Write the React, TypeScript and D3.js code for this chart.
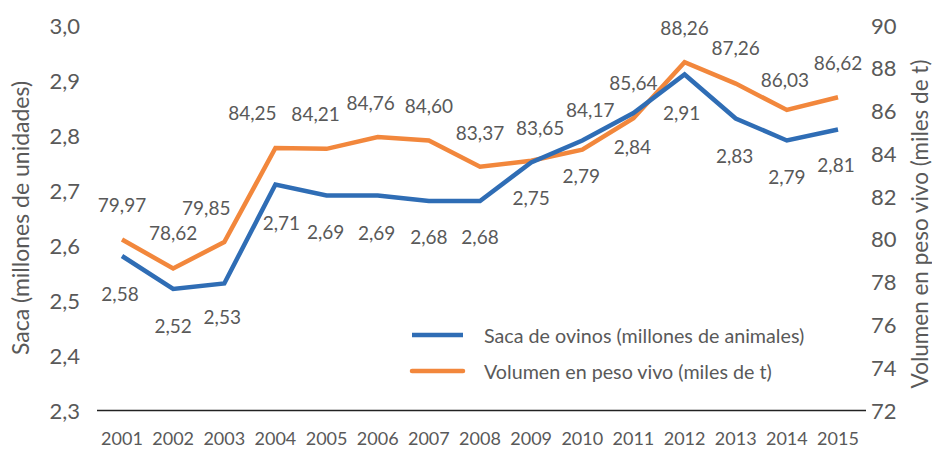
import React from "react";
import * as d3 from "d3";

const years = ["2001","2002","2003","2004","2005","2006","2007","2008","2009","2010","2011","2012","2013","2014","2015"];
const saca = [2.58, 2.52, 2.53, 2.71, 2.69, 2.69, 2.68, 2.68, 2.75, 2.79, 2.84, 2.91, 2.83, 2.79, 2.81];
const volumen = [79.97, 78.62, 79.85, 84.25, 84.21, 84.76, 84.60, 83.37, 83.65, 84.17, 85.64, 88.26, 87.26, 86.03, 86.62];
const leftTicks = [2.3, 2.4, 2.5, 2.6, 2.7, 2.8, 2.9, 3.0];
const rightTicks = [72, 74, 76, 78, 80, 82, 84, 86, 88, 90];
const seriesNames = ["Saca de ovinos (millones de animales)", "Volumen en peso vivo (miles de t)"];
const leftTitle = "Saca (millones de unidades)";
const rightTitle = "Volumen en peso vivo (miles de t)";

// label nudges (layout)
const volDx = [0, 0, -18, -23, -11, -7, 0, 0, 9, 8, 0, 0, 0, -2, 0];
const volDy = [-35, -36, -35, -35, -35, -35, -35, -34, -33, -40, -36, -35, -36, -30, -35];
const sacaDx = [-2, 0, -2, 6, -1, -1, 0, 0, 0, -1, -1, -3, -1, 0, -2];
const sacaDy = [37, 36, 33, 38, 36, 37, 35, 35, 35, 35, 33, 38, 37, 36, 35];

const BLUE = "#2F6DB5";
const ORANGE = "#F2873C";
const TEXT = "#595959";
const FONT = "Lato, 'Open Sans', sans-serif";

const loc = d3.formatLocale({ decimal: ",", thousands: ".", grouping: [3], currency: ["", ""] });
const f1 = loc.format(".1f");
const f2 = loc.format(".2f");
const f0 = loc.format("d");

export default function App() {
  const W = 932, H = 449;
  const x = d3.scalePoint<string>().domain(years).range([122, 838]);
  const yL = d3.scaleLinear().domain([2.3, 3.0]).range([410, 25]);
  const yR = d3.scaleLinear().domain([72, 90]).range([410, 25]);

  const lineL = d3.line<number>().x((_, i) => x(years[i]) as number).y((d) => yL(d));
  const lineR = d3.line<number>().x((_, i) => x(years[i]) as number).y((d) => yR(d));

  return (
    <svg width={W} height={H} style={{ position: "absolute", left: 0, top: 0, background: "#fff" }} fontFamily={FONT}>
      {leftTicks.map((t) => (
        <text key={"l" + t} x={80} y={yL(t)} textAnchor="end" dominantBaseline="central" fontSize={22} fill={TEXT}>
          {f1(t)}
        </text>
      ))}
      {rightTicks.map((t) => (
        <text key={"r" + t} x={871} y={yR(t)} textAnchor="start" dominantBaseline="central" fontSize={22} fill={TEXT}>
          {f0(t)}
        </text>
      ))}
      <line x1={97} x2={866} y1={410.5} y2={410.5} stroke="#222" strokeWidth={1.3} />
      {years.map((yr) => (
        <text key={"x" + yr} x={x(yr)} y={438} textAnchor="middle" dominantBaseline="central" fontSize={18} fill={TEXT}>
          {yr}
        </text>
      ))}
      <text transform={`translate(20,218) rotate(-90)`} textAnchor="middle" dominantBaseline="central" fontSize={23} fill={TEXT}>
        {leftTitle}
      </text>
      <text transform={`translate(919,224) rotate(-90)`} textAnchor="middle" dominantBaseline="central" fontSize={22.5} fill={TEXT}>
        {rightTitle}
      </text>

      <path d={lineR(volumen) || ""} fill="none" stroke={ORANGE} strokeWidth={4.5} strokeLinejoin="miter" />
      <path d={lineL(saca) || ""} fill="none" stroke={BLUE} strokeWidth={4.5} strokeLinejoin="miter" />

      {volumen.map((v, i) => (
        <text key={"vl" + i} x={(x(years[i]) as number) + volDx[i]} y={yR(v) + volDy[i]} textAnchor="middle" dominantBaseline="central" fontSize={19} fill={TEXT}>
          {f2(v)}
        </text>
      ))}
      {saca.map((v, i) => (
        <text key={"sl" + i} x={(x(years[i]) as number) + sacaDx[i]} y={yL(v) + sacaDy[i]} textAnchor="middle" dominantBaseline="central" fontSize={19} fill={TEXT}>
          {f2(v)}
        </text>
      ))}

      <line x1={412} x2={463} y1={335} y2={335} stroke={BLUE} strokeWidth={4.5} />
      <text x={484} y={335} dominantBaseline="central" fontSize={19.7} fill={TEXT}>{seriesNames[0]}</text>
      <line x1={412} x2={463} y1={371} y2={371} stroke={ORANGE} strokeWidth={4.5} strokeLinecap="round" />
      <text x={484} y={371} dominantBaseline="central" fontSize={19.7} fill={TEXT}>{seriesNames[1]}</text>
    </svg>
  );
}
